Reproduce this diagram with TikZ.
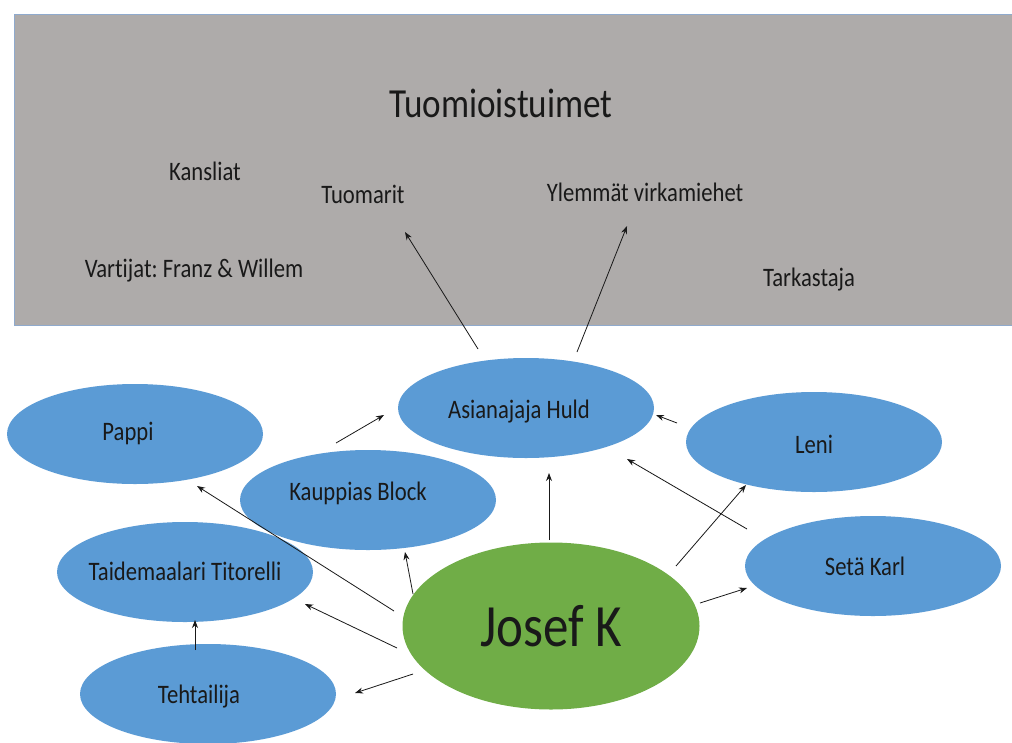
\documentclass[tikz,border=0pt]{standalone}
\usepackage{fontspec}
\setmainfont{Carlito}[FakeStretch=0.85, Ligatures=NoCommon]
\usetikzlibrary{shapes.geometric,arrows.meta}
\definecolor{courtgray}{RGB}{174,171,170}
\definecolor{courtedge}{RGB}{143,170,205}
\definecolor{pblue}{RGB}{91,155,213}
\definecolor{jgreen}{RGB}{112,173,71}
\definecolor{ink}{RGB}{25,25,25}
\frenchspacing
\begin{document}
\begin{tikzpicture}[x=0.75pt,y=-0.75pt,
  person/.style={ellipse, fill=pblue, minimum width=192pt, minimum height=75pt, inner sep=0pt},
  lbl/.style={inner sep=0pt, text=ink, font=\fontsize{20}{24}\selectfont},
  persontext/.style args={#1/#2/#3}{label={[lbl, xshift=#1*0.75pt, yshift=-#2*0.75pt]center:#3}},
  link/.style={-{Stealth[length=6pt,width=4.5pt]}, line width=0.6pt, draw=ink}]
\clip (0,0) rectangle (1012,742);
\fill[white] (0,0) rectangle (1012,742);
% court box
\node (court) [rectangle, draw=courtedge, fill=courtgray, line width=1pt, anchor=north west,
  minimum width=756pt, minimum height=233.25pt, inner sep=0pt] at (14,14) {};
\node (title) [lbl, font=\fontsize{31}{36}\selectfont] at (501,103) {Tuomioistuimet};
\node (kansliat) [lbl] at (205,171) {Kansliat};
\node (tuomarit) [lbl] at (363,194) {Tuomarit};
\node (ylemmat) [lbl] at (645,192) {Ylemmät virkamiehet};
\node (vartijat) [lbl] at (194,271) {Vartijat: Franz \& Willem};
\node (tarkastaja) [lbl] at (809,280) {Tarkastaja};
% people
\node (huld) [person, persontext={-7/4/Asianajaja Huld}] at (526,408) {};
\node (pappi) [person, persontext={-7/-1/Pappi}] at (135,434) {};
\node (block) [person, persontext={-10/-7/Kauppias Block}] at (368,500) {};
\node (leni) [person, persontext={0/2/Leni}] at (814,442) {};
\node (titorelli) [person, persontext={0/-1/Taidemaalari Titorelli}] at (185,572) {};
\node (karl) [person, persontext={-8/0/Setä Karl}] at (873,566) {};
\node (tehtailija) [person, persontext={-9/3/Tehtailija}] at (208,694) {};
\node (josef) [ellipse, fill=jgreen, minimum width=222.75pt, minimum height=125.25pt, inner sep=0pt,
  text=ink, font=\fontsize{45}{50}\selectfont] at (551,626) {Josef K};
% connector end points
\coordinate (h1) at (478,349); \coordinate (t1) at (405,232);
\coordinate (h2) at (577,352); \coordinate (y1) at (627,226);
\coordinate (b1) at (336,443); \coordinate (h3) at (384,415);
\coordinate (l1) at (677,423); \coordinate (h4) at (656,415);
\coordinate (j1) at (549,540); \coordinate (h5) at (549,473);
\coordinate (k1) at (747,529); \coordinate (h6) at (627,459);
\coordinate (j2) at (676,566); \coordinate (l2) at (746,485);
\coordinate (j3) at (700,603); \coordinate (k2) at (747,588);
\coordinate (j4) at (413,594); \coordinate (b2) at (405,552);
\coordinate (j5) at (394,611); \coordinate (p1) at (197,486);
\coordinate (j6) at (397,648); \coordinate (ti1) at (305,604);
\coordinate (te1) at (195,650); \coordinate (ti2) at (195,620);
\coordinate (j7) at (413,674); \coordinate (te2) at (355,693);
\draw[link] (h1) -- (t1);
\draw[link] (h2) -- (y1);
\draw[link] (b1) -- (h3);
\draw[link] (l1) -- (h4);
\draw[link] (j1) -- (h5);
\draw[link] (k1) -- (h6);
\draw[link] (j2) -- (l2);
\draw[link] (j3) -- (k2);
\draw[link] (j4) -- (b2);
\draw[link] (j5) -- (p1);
\draw[link] (j6) -- (ti1);
\draw[link] (te1) -- (ti2);
\draw[link] (j7) -- (te2);
\end{tikzpicture}
\end{document}
